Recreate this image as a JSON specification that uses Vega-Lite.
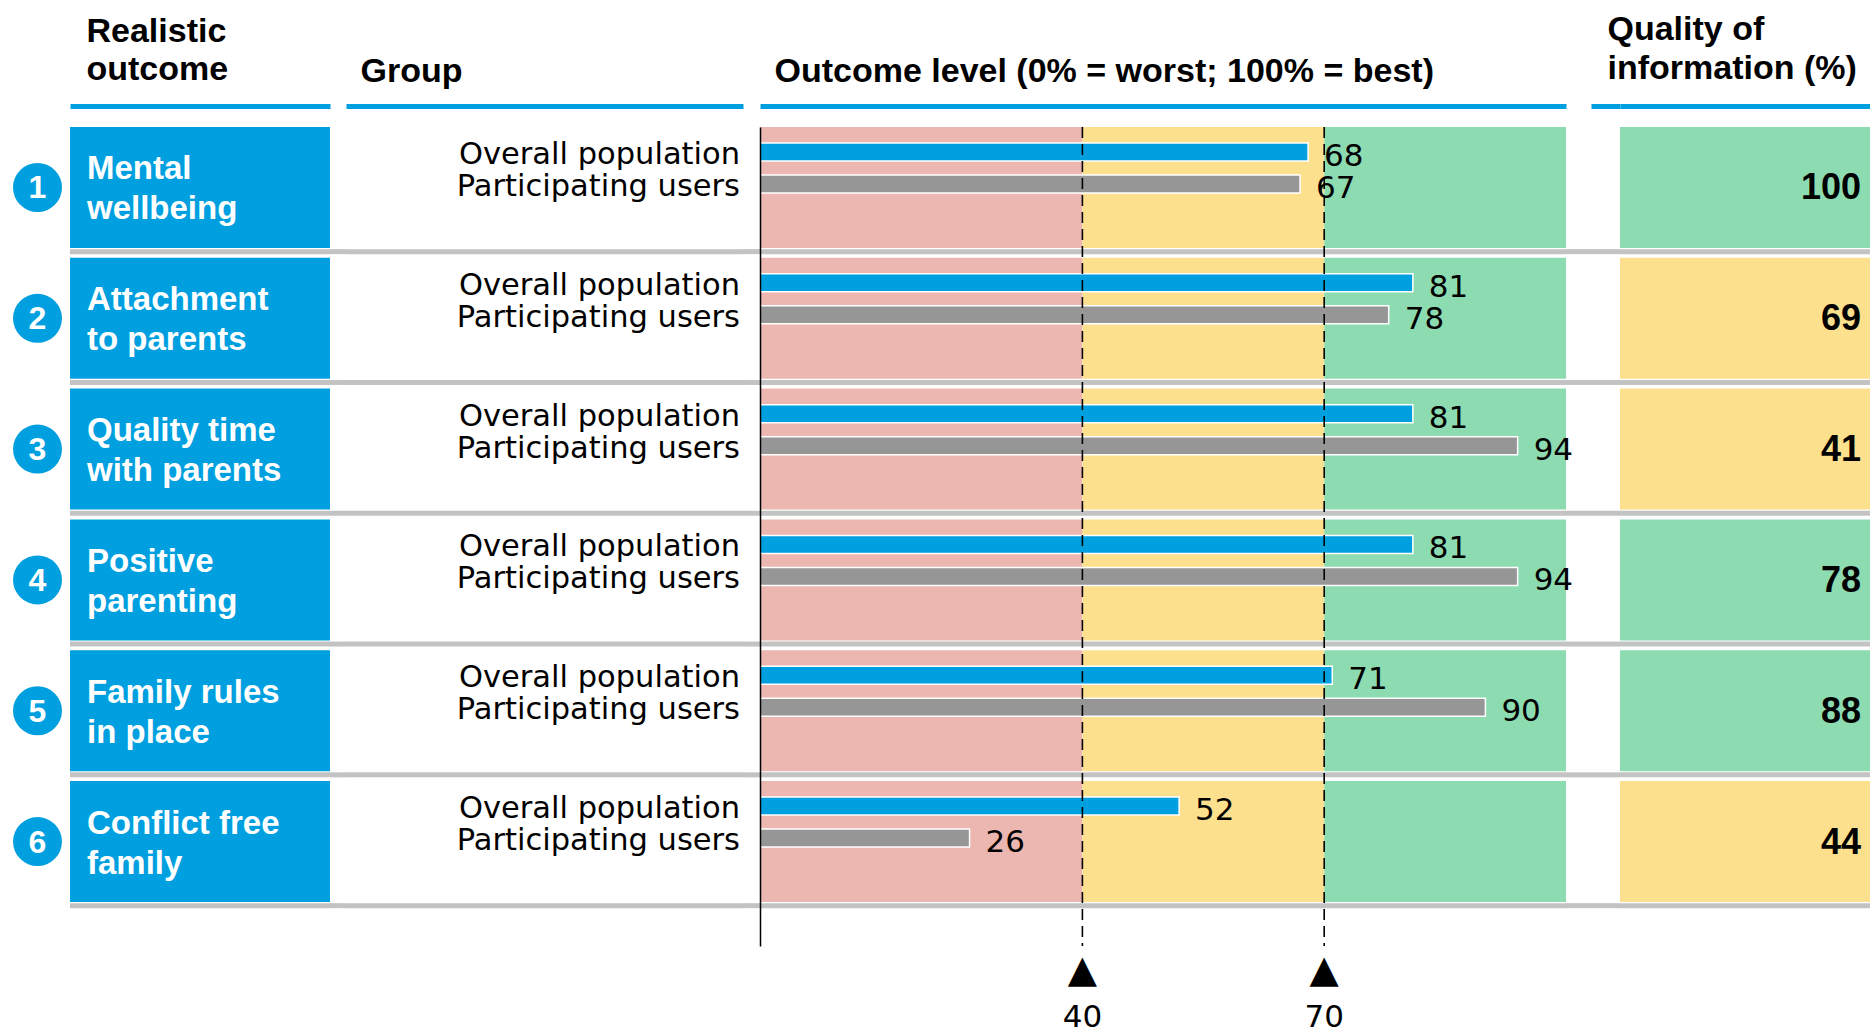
{
"$schema": "https://vega.github.io/schema/vega-lite/v6.json",
"background": "white",
"padding": {"top": 12, "left": 5, "right": 0, "bottom": 0},
"datasets": {
"outcomes": [
{"n": 1, "outcome": "Mental wellbeing", "label": ["Mental", "wellbeing"], "quality": 100},
{"n": 2, "outcome": "Attachment to parents", "label": ["Attachment", "to parents"], "quality": 69},
{"n": 3, "outcome": "Quality time with parents", "label": ["Quality time", "with parents"], "quality": 41},
{"n": 4, "outcome": "Positive parenting", "label": ["Positive", "parenting"], "quality": 78},
{"n": 5, "outcome": "Family rules in place", "label": ["Family rules", "in place"], "quality": 88},
{"n": 6, "outcome": "Conflict free family", "label": ["Conflict free", "family"], "quality": 44}
],
"bars": [
{"outcome": "Mental wellbeing", "group": "Overall population", "value": 68},
{"outcome": "Mental wellbeing", "group": "Participating users", "value": 67},
{"outcome": "Attachment to parents", "group": "Overall population", "value": 81},
{"outcome": "Attachment to parents", "group": "Participating users", "value": 78},
{"outcome": "Quality time with parents", "group": "Overall population", "value": 81},
{"outcome": "Quality time with parents", "group": "Participating users", "value": 94},
{"outcome": "Positive parenting", "group": "Overall population", "value": 81},
{"outcome": "Positive parenting", "group": "Participating users", "value": 94},
{"outcome": "Family rules in place", "group": "Overall population", "value": 71},
{"outcome": "Family rules in place", "group": "Participating users", "value": 90},
{"outcome": "Conflict free family", "group": "Overall population", "value": 52},
{"outcome": "Conflict free family", "group": "Participating users", "value": 26}
],
"zones": [
{"outcome": "Mental wellbeing", "zone": "low", "from": 0, "to": 40},
{"outcome": "Mental wellbeing", "zone": "mid", "from": 40, "to": 70},
{"outcome": "Mental wellbeing", "zone": "high", "from": 70, "to": 100},
{"outcome": "Attachment to parents", "zone": "low", "from": 0, "to": 40},
{"outcome": "Attachment to parents", "zone": "mid", "from": 40, "to": 70},
{"outcome": "Attachment to parents", "zone": "high", "from": 70, "to": 100},
{"outcome": "Quality time with parents", "zone": "low", "from": 0, "to": 40},
{"outcome": "Quality time with parents", "zone": "mid", "from": 40, "to": 70},
{"outcome": "Quality time with parents", "zone": "high", "from": 70, "to": 100},
{"outcome": "Positive parenting", "zone": "low", "from": 0, "to": 40},
{"outcome": "Positive parenting", "zone": "mid", "from": 40, "to": 70},
{"outcome": "Positive parenting", "zone": "high", "from": 70, "to": 100},
{"outcome": "Family rules in place", "zone": "low", "from": 0, "to": 40},
{"outcome": "Family rules in place", "zone": "mid", "from": 40, "to": 70},
{"outcome": "Family rules in place", "zone": "high", "from": 70, "to": 100},
{"outcome": "Conflict free family", "zone": "low", "from": 0, "to": 40},
{"outcome": "Conflict free family", "zone": "mid", "from": 40, "to": 70},
{"outcome": "Conflict free family", "zone": "high", "from": 70, "to": 100}
],
"thresholds": [{"value": 40}, {"value": 70}]
},
"spacing": 0,
"bounds": "flush",
"resolve": {"scale": {"color": "independent", "fill": "independent"}},
"hconcat": [
{
"width": 65, "height": 819,
"data": {"name": "outcomes"},
"layer": [
{"mark": {"type": "point", "shape": "circle", "filled": true, "size": 2400, "color": "#009fe0", "opacity": 1, "strokeWidth": 0},
 "encoding": {"y": {"field": "outcome", "type": "nominal", "scale": {"type": "band", "domain": ["Mental wellbeing", "Attachment to parents", "Quality time with parents", "Positive parenting", "Family rules in place", "Conflict free family"], "paddingInner": 0.075, "paddingOuter": 0.168, "align": 0, "round": false}, "axis": null}}},
{"mark": {"type": "text", "font": "Liberation Sans", "fontWeight": "bold", "fontSize": 32, "color": "white", "baseline": "middle", "align": "center", "dy": 1},
 "encoding": {"y": {"field": "outcome", "type": "nominal", "scale": {"type": "band", "domain": ["Mental wellbeing", "Attachment to parents", "Quality time with parents", "Positive parenting", "Family rules in place", "Conflict free family"], "paddingInner": 0.075, "paddingOuter": 0.168, "align": 0, "round": false}, "axis": null},
 "text": {"field": "n", "type": "nominal"}}}
]
},
{
"width": 260, "height": 819,
"data": {"name": "outcomes"},
"layer": [
{"mark": {"type": "rule", "color": "#c3c3c3", "strokeWidth": 5},
 "encoding": {"y": {"field": "outcome", "type": "nominal", "bandPosition": 1.03, "scale": {"type": "band", "domain": ["Mental wellbeing", "Attachment to parents", "Quality time with parents", "Positive parenting", "Family rules in place", "Conflict free family"], "paddingInner": 0.075, "paddingOuter": 0.168, "align": 0, "round": false}, "axis": null}}},
{"mark": {"type": "rect", "color": "#009fe0"},
 "encoding": {"y": {"field": "outcome", "type": "nominal", "scale": {"type": "band", "domain": ["Mental wellbeing", "Attachment to parents", "Quality time with parents", "Positive parenting", "Family rules in place", "Conflict free family"], "paddingInner": 0.075, "paddingOuter": 0.168, "align": 0, "round": false}, "axis": null},
 "x": {"datum": 0, "type": "quantitative", "scale": {"domain": [0, 1]}, "axis": {"orient": "top", "offset": 21, "domain": true, "domainColor": "#009fe0", "domainWidth": 5, "ticks": false, "labels": false, "grid": false, "title": ["Realistic", "outcome"], "titleFont": "Liberation Sans", "titleFontWeight": "bold", "titleFontSize": 34, "titleColor": "black", "titleAlign": "left", "titleAnchor": "start", "titleBaseline": "alphabetic", "titleLineHeight": 38, "titleX": 16, "titleY": -65}},
 "x2": {"datum": 1}}},
{"mark": {"type": "text", "font": "Liberation Sans", "fontWeight": "bold", "fontSize": 33, "color": "white", "align": "left", "baseline": "middle", "dx": 17, "dy": -18, "lineHeight": 40},
 "encoding": {"y": {"field": "outcome", "type": "nominal", "scale": {"type": "band", "domain": ["Mental wellbeing", "Attachment to parents", "Quality time with parents", "Positive parenting", "Family rules in place", "Conflict free family"], "paddingInner": 0.075, "paddingOuter": 0.168, "align": 0, "round": false}, "axis": null},
 "x": {"datum": 0, "type": "quantitative", "scale": {"domain": [0, 1]}, "axis": {"orient": "top", "offset": 21, "domain": true, "domainColor": "#009fe0", "domainWidth": 5, "ticks": false, "labels": false, "grid": false, "title": ["Realistic", "outcome"], "titleFont": "Liberation Sans", "titleFontWeight": "bold", "titleFontSize": 34, "titleColor": "black", "titleAlign": "left", "titleAnchor": "start", "titleBaseline": "alphabetic", "titleLineHeight": 38, "titleX": 16, "titleY": -65}},
 "text": {"field": "label"}}}
]
},
{
"width": 16, "height": 819,
"data": {"name": "outcomes"},
"mark": {"type": "rule", "color": "#c3c3c3", "strokeWidth": 5},
"encoding": {"y": {"field": "outcome", "type": "nominal", "bandPosition": 1.03, "scale": {"type": "band", "domain": ["Mental wellbeing", "Attachment to parents", "Quality time with parents", "Positive parenting", "Family rules in place", "Conflict free family"], "paddingInner": 0.075, "paddingOuter": 0.168, "align": 0, "round": false}, "axis": null}}
},
{
"width": 397, "height": 819,
"layer": [
{"data": {"name": "outcomes"},
 "mark": {"type": "rule", "color": "#c3c3c3", "strokeWidth": 5},
 "encoding": {"y": {"field": "outcome", "type": "nominal", "bandPosition": 1.03, "scale": {"type": "band", "domain": ["Mental wellbeing", "Attachment to parents", "Quality time with parents", "Positive parenting", "Family rules in place", "Conflict free family"], "paddingInner": 0.075, "paddingOuter": 0.168, "align": 0, "round": false}, "axis": null}}},
{"data": {"name": "bars"},
 "mark": {"type": "text", "font": "DejaVu Sans", "fontSize": 30.5, "color": "black", "align": "right", "baseline": "middle", "dx": -3, "dy": 3},
 "encoding": {"y": {"field": "outcome", "type": "nominal", "scale": {"type": "band", "domain": ["Mental wellbeing", "Attachment to parents", "Quality time with parents", "Positive parenting", "Family rules in place", "Conflict free family"], "paddingInner": 0.075, "paddingOuter": 0.168, "align": 0, "round": false}, "axis": null},
 "yOffset": {"field": "group", "type": "nominal", "scale": {"domain": ["Overall population", "Participating users"], "paddingInner": 0, "paddingOuter": 0.89, "align": 0.158, "round": false}},
 "x": {"datum": 1, "type": "quantitative", "scale": {"domain": [0, 1]}, "axis": {"orient": "top", "offset": 21, "domain": true, "domainColor": "#009fe0", "domainWidth": 5, "ticks": false, "labels": false, "grid": false, "title": "Group", "titleFont": "Liberation Sans", "titleFontWeight": "bold", "titleFontSize": 34, "titleColor": "black", "titleAlign": "left", "titleAnchor": "start", "titleBaseline": "alphabetic", "titleX": 14, "titleY": -25}},
 "text": {"field": "group", "type": "nominal"}}}
]
},
{
"width": 17, "height": 819,
"data": {"name": "outcomes"},
"mark": {"type": "rule", "color": "#c3c3c3", "strokeWidth": 5},
"encoding": {"y": {"field": "outcome", "type": "nominal", "bandPosition": 1.03, "scale": {"type": "band", "domain": ["Mental wellbeing", "Attachment to parents", "Quality time with parents", "Positive parenting", "Family rules in place", "Conflict free family"], "paddingInner": 0.075, "paddingOuter": 0.168, "align": 0, "round": false}, "axis": null}}
},
{
"width": 806, "height": 819,
"layer": [
{"data": {"name": "zones"},
 "mark": {"type": "rect"},
 "encoding": {"y": {"field": "outcome", "type": "nominal", "scale": {"type": "band", "domain": ["Mental wellbeing", "Attachment to parents", "Quality time with parents", "Positive parenting", "Family rules in place", "Conflict free family"], "paddingInner": 0.075, "paddingOuter": 0.168, "align": 0, "round": false}, "axis": {"orient": "left", "domain": true, "domainColor": "black", "domainWidth": 1.5, "ticks": false, "labels": false, "grid": false, "title": null, "zindex": 1}},
 "x": {"field": "from", "type": "quantitative", "scale": {"domain": [0, 100], "nice": false}, "axis": {"orient": "top", "offset": 21, "domain": true, "domainColor": "#009fe0", "domainWidth": 5, "ticks": false, "labels": false, "grid": false, "title": "Outcome level (0% = worst; 100% = best)", "titleFont": "Liberation Sans", "titleFontWeight": "bold", "titleFontSize": 34, "titleColor": "black", "titleAlign": "left", "titleAnchor": "start", "titleBaseline": "alphabetic", "titleX": 14, "titleY": -25}},
 "x2": {"field": "to"},
 "fill": {"field": "zone", "type": "nominal", "scale": {"domain": ["low", "mid", "high"], "range": ["#ebb7b0", "#fde08d", "#8ddcb1"]}, "legend": null}}},
{"data": {"name": "outcomes"},
 "mark": {"type": "rule", "color": "#c3c3c3", "strokeWidth": 5},
 "encoding": {"y": {"field": "outcome", "type": "nominal", "bandPosition": 1.03, "scale": {"type": "band", "domain": ["Mental wellbeing", "Attachment to parents", "Quality time with parents", "Positive parenting", "Family rules in place", "Conflict free family"], "paddingInner": 0.075, "paddingOuter": 0.168, "align": 0, "round": false}, "axis": {"orient": "left", "domain": true, "domainColor": "black", "domainWidth": 1.5, "ticks": false, "labels": false, "grid": false, "title": null, "zindex": 1}}}},
{"data": {"name": "bars"},
 "mark": {"type": "bar", "height": 18, "stroke": "white", "strokeWidth": 1.5},
 "encoding": {"y": {"field": "outcome", "type": "nominal", "scale": {"type": "band", "domain": ["Mental wellbeing", "Attachment to parents", "Quality time with parents", "Positive parenting", "Family rules in place", "Conflict free family"], "paddingInner": 0.075, "paddingOuter": 0.168, "align": 0, "round": false}, "axis": {"orient": "left", "domain": true, "domainColor": "black", "domainWidth": 1.5, "ticks": false, "labels": false, "grid": false, "title": null, "zindex": 1}},
 "yOffset": {"field": "group", "type": "nominal", "scale": {"domain": ["Overall population", "Participating users"], "paddingInner": 0, "paddingOuter": 0.89, "align": 0.158, "round": false}},
 "x": {"field": "value", "type": "quantitative", "scale": {"domain": [0, 100], "nice": false}, "axis": {"orient": "top", "offset": 21, "domain": true, "domainColor": "#009fe0", "domainWidth": 5, "ticks": false, "labels": false, "grid": false, "title": "Outcome level (0% = worst; 100% = best)", "titleFont": "Liberation Sans", "titleFontWeight": "bold", "titleFontSize": 34, "titleColor": "black", "titleAlign": "left", "titleAnchor": "start", "titleBaseline": "alphabetic", "titleX": 14, "titleY": -25}},
 "color": {"field": "group", "type": "nominal", "scale": {"domain": ["Overall population", "Participating users"], "range": ["#009fe0", "#969696"]}, "legend": null}}},
{"data": {"name": "bars"},
 "mark": {"type": "text", "font": "DejaVu Sans", "fontSize": 31, "color": "black", "align": "left", "baseline": "middle", "dx": 16, "dy": 5},
 "encoding": {"y": {"field": "outcome", "type": "nominal", "scale": {"type": "band", "domain": ["Mental wellbeing", "Attachment to parents", "Quality time with parents", "Positive parenting", "Family rules in place", "Conflict free family"], "paddingInner": 0.075, "paddingOuter": 0.168, "align": 0, "round": false}, "axis": {"orient": "left", "domain": true, "domainColor": "black", "domainWidth": 1.5, "ticks": false, "labels": false, "grid": false, "title": null, "zindex": 1}},
 "yOffset": {"field": "group", "type": "nominal", "scale": {"domain": ["Overall population", "Participating users"], "paddingInner": 0, "paddingOuter": 0.89, "align": 0.158, "round": false}},
 "x": {"field": "value", "type": "quantitative", "scale": {"domain": [0, 100], "nice": false}, "axis": {"orient": "top", "offset": 21, "domain": true, "domainColor": "#009fe0", "domainWidth": 5, "ticks": false, "labels": false, "grid": false, "title": "Outcome level (0% = worst; 100% = best)", "titleFont": "Liberation Sans", "titleFontWeight": "bold", "titleFontSize": 34, "titleColor": "black", "titleAlign": "left", "titleAnchor": "start", "titleBaseline": "alphabetic", "titleX": 14, "titleY": -25}},
 "text": {"field": "value", "type": "quantitative"}}},
{"data": {"name": "thresholds"},
 "mark": {"type": "rule", "color": "black", "strokeWidth": 1.6, "strokeDash": [11, 6]},
 "encoding": {"x": {"field": "value", "type": "quantitative", "scale": {"domain": [0, 100], "nice": false}, "axis": {"orient": "top", "offset": 21, "domain": true, "domainColor": "#009fe0", "domainWidth": 5, "ticks": false, "labels": false, "grid": false, "title": "Outcome level (0% = worst; 100% = best)", "titleFont": "Liberation Sans", "titleFontWeight": "bold", "titleFontSize": 34, "titleColor": "black", "titleAlign": "left", "titleAnchor": "start", "titleBaseline": "alphabetic", "titleX": 14, "titleY": -25}}}},
{"data": {"name": "thresholds"},
 "mark": {"type": "text", "font": "DejaVu Sans", "fontSize": 38, "color": "black", "align": "center", "baseline": "alphabetic", "dy": 36},
 "encoding": {"x": {"field": "value", "type": "quantitative", "scale": {"domain": [0, 100], "nice": false}, "axis": {"orient": "top", "offset": 21, "domain": true, "domainColor": "#009fe0", "domainWidth": 5, "ticks": false, "labels": false, "grid": false, "title": "Outcome level (0% = worst; 100% = best)", "titleFont": "Liberation Sans", "titleFontWeight": "bold", "titleFontSize": 34, "titleColor": "black", "titleAlign": "left", "titleAnchor": "start", "titleBaseline": "alphabetic", "titleX": 14, "titleY": -25}},
 "y": {"value": "height"},
 "text": {"value": "▲"}}},
{"data": {"name": "thresholds"},
 "mark": {"type": "text", "font": "DejaVu Sans", "fontSize": 31, "color": "black", "align": "center", "baseline": "alphabetic", "dy": 81},
 "encoding": {"x": {"field": "value", "type": "quantitative", "scale": {"domain": [0, 100], "nice": false}, "axis": {"orient": "top", "offset": 21, "domain": true, "domainColor": "#009fe0", "domainWidth": 5, "ticks": false, "labels": false, "grid": false, "title": "Outcome level (0% = worst; 100% = best)", "titleFont": "Liberation Sans", "titleFontWeight": "bold", "titleFontSize": 34, "titleColor": "black", "titleAlign": "left", "titleAnchor": "start", "titleBaseline": "alphabetic", "titleX": 14, "titleY": -25}},
 "y": {"value": "height"},
 "text": {"field": "value", "type": "quantitative"}}}
]
},
{
"width": 25, "height": 819,
"data": {"name": "outcomes"},
"mark": {"type": "rule", "color": "#c3c3c3", "strokeWidth": 5},
"encoding": {"y": {"field": "outcome", "type": "nominal", "bandPosition": 1.03, "scale": {"type": "band", "domain": ["Mental wellbeing", "Attachment to parents", "Quality time with parents", "Positive parenting", "Family rules in place", "Conflict free family"], "paddingInner": 0.075, "paddingOuter": 0.168, "align": 0, "round": false}, "axis": null}}
},
{
"width": 29, "height": 819,
"data": {"name": "outcomes"},
"mark": {"type": "rule", "color": "#c3c3c3", "strokeWidth": 5},
"encoding": {"y": {"field": "outcome", "type": "nominal", "bandPosition": 1.03, "scale": {"type": "band", "domain": ["Mental wellbeing", "Attachment to parents", "Quality time with parents", "Positive parenting", "Family rules in place", "Conflict free family"], "paddingInner": 0.075, "paddingOuter": 0.168, "align": 0, "round": false}, "axis": null},
 "x": {"datum": 0, "type": "quantitative", "scale": {"domain": [0, 1]}, "axis": {"orient": "top", "offset": 21, "domain": true, "domainColor": "#009fe0", "domainWidth": 5, "ticks": false, "labels": false, "grid": false, "title": null}},
 "x2": {"datum": 1}}
},
{
"width": 250, "height": 819,
"data": {"name": "outcomes"},
"layer": [
{"mark": {"type": "rule", "color": "#c3c3c3", "strokeWidth": 5},
 "encoding": {"y": {"field": "outcome", "type": "nominal", "bandPosition": 1.03, "scale": {"type": "band", "domain": ["Mental wellbeing", "Attachment to parents", "Quality time with parents", "Positive parenting", "Family rules in place", "Conflict free family"], "paddingInner": 0.075, "paddingOuter": 0.168, "align": 0, "round": false}, "axis": null}}},
{"mark": {"type": "rect"},
 "encoding": {"y": {"field": "outcome", "type": "nominal", "scale": {"type": "band", "domain": ["Mental wellbeing", "Attachment to parents", "Quality time with parents", "Positive parenting", "Family rules in place", "Conflict free family"], "paddingInner": 0.075, "paddingOuter": 0.168, "align": 0, "round": false}, "axis": null},
 "x": {"datum": 0, "type": "quantitative", "scale": {"domain": [0, 1]}, "axis": {"orient": "top", "offset": 21, "domain": true, "domainColor": "#009fe0", "domainWidth": 5, "ticks": false, "labels": false, "grid": false, "title": ["Quality of", "information (%)"], "titleFont": "Liberation Sans", "titleFontWeight": "bold", "titleFontSize": 34, "titleColor": "black", "titleAlign": "left", "titleAnchor": "start", "titleBaseline": "alphabetic", "titleLineHeight": 39, "titleX": -13, "titleY": -67}},
 "x2": {"datum": 1},
 "fill": {"field": "quality", "type": "quantitative", "scale": {"type": "threshold", "domain": [40, 70], "range": ["#ebb7b0", "#fde08d", "#8ddcb1"]}, "legend": null}}},
{"mark": {"type": "text", "font": "Liberation Sans", "fontWeight": "bold", "fontSize": 36, "color": "black", "align": "right", "baseline": "middle", "dx": -9, "dy": 1},
 "encoding": {"y": {"field": "outcome", "type": "nominal", "scale": {"type": "band", "domain": ["Mental wellbeing", "Attachment to parents", "Quality time with parents", "Positive parenting", "Family rules in place", "Conflict free family"], "paddingInner": 0.075, "paddingOuter": 0.168, "align": 0, "round": false}, "axis": null},
 "x": {"datum": 1, "type": "quantitative", "scale": {"domain": [0, 1]}, "axis": {"orient": "top", "offset": 21, "domain": true, "domainColor": "#009fe0", "domainWidth": 5, "ticks": false, "labels": false, "grid": false, "title": ["Quality of", "information (%)"], "titleFont": "Liberation Sans", "titleFontWeight": "bold", "titleFontSize": 34, "titleColor": "black", "titleAlign": "left", "titleAnchor": "start", "titleBaseline": "alphabetic", "titleLineHeight": 39, "titleX": -13, "titleY": -67}},
 "text": {"field": "quality", "type": "quantitative"}}}
]
}
],
"config": {"view": {"stroke": null}}
}
